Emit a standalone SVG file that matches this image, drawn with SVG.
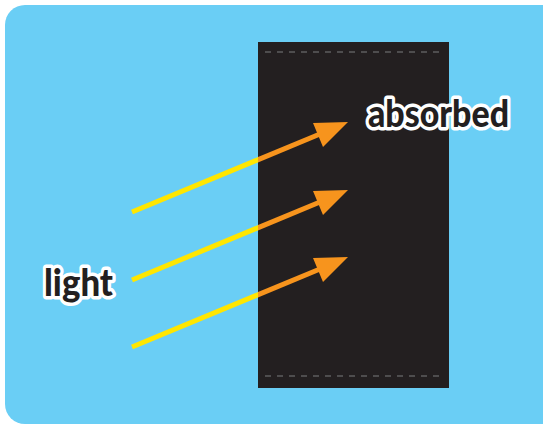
<svg xmlns="http://www.w3.org/2000/svg" width="543" height="425" viewBox="0 0 543 425">
<style>
.lbl{font-family:Lato,"Open Sans",sans-serif;font-weight:900;font-size:38px;fill:#231F20;stroke:#fff;stroke-width:7;stroke-linejoin:round;paint-order:stroke}
.dash{stroke:#5E5E5E;stroke-width:1.5;stroke-dasharray:6 6}
.y{stroke:#FFE600;stroke-width:5}
.o{stroke:#F7941D;stroke-width:5}
.head{fill:#F7941D}
</style>
<defs>
<clipPath id="inside"><rect x="258" y="42" width="191" height="346"/></clipPath>
<clipPath id="outside"><rect x="0" y="0" width="258" height="425"/></clipPath>
</defs>
<rect id="background" x="5" y="5" width="560" height="419" rx="20" fill="#6ACEF5"/>
<g id="material">
<rect x="258" y="42" width="191" height="346" fill="#231F20"/>
<line class="dash" x1="265" y1="52" x2="442" y2="52"/>
<line class="dash" x1="265" y1="376" x2="442" y2="376"/>
</g>
<g id="connectors">
<g clip-path="url(#outside)">
<line class="y" x1="132" y1="212" x2="320" y2="134"/>
<line class="y" x1="132" y1="280" x2="320" y2="202"/>
<line class="y" x1="132" y1="347" x2="320" y2="269"/>
</g>
<g clip-path="url(#inside)">
<line class="o" x1="132" y1="212" x2="320" y2="134"/>
<line class="o" x1="132" y1="280" x2="320" y2="202"/>
<line class="o" x1="132" y1="347" x2="320" y2="269"/>
</g>
<polygon class="head" points="313,123 348,122 323,147"/>
<polygon class="head" points="313,191 348,190 323,215"/>
<polygon class="head" points="313,258 348,257 323,282"/>
</g>
<g id="label-absorbed"><text class="lbl" x="368" y="127" textLength="141" lengthAdjust="spacingAndGlyphs">absorbed</text></g>
<g id="label-light"><text class="lbl" x="44" y="296" textLength="69" lengthAdjust="spacingAndGlyphs">light</text></g>
</svg>
